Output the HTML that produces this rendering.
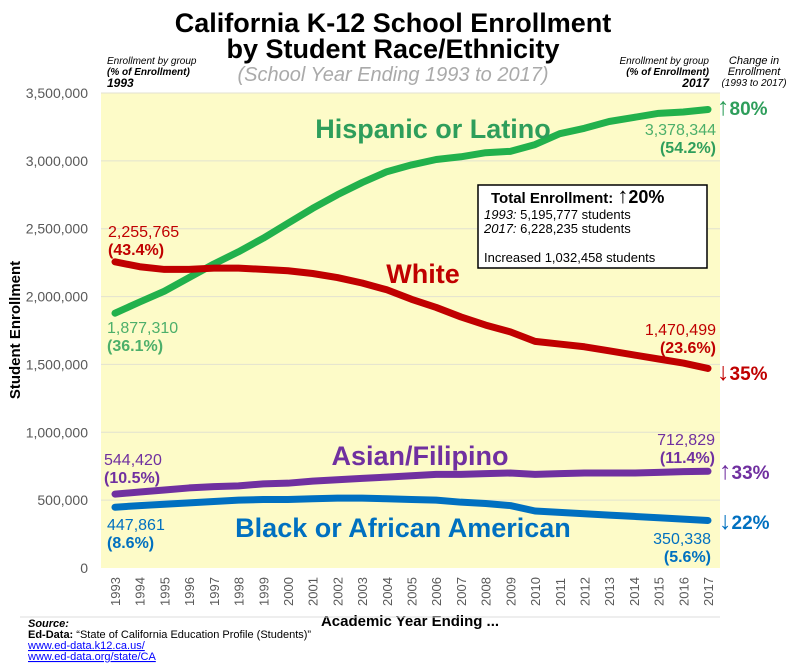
<!DOCTYPE html>
<html><head><meta charset="utf-8"><style>
body{margin:0;background:#fff;}
svg text{font-family:"Liberation Sans",sans-serif;}
</style></head><body>
<svg id="chart" width="786" height="664" xmlns="http://www.w3.org/2000/svg">
<rect x="101" y="93" width="619" height="475" fill="#fdfbc8"/>
<g id="grid"></g>
<g id="yaxis"></g>
<g id="xaxis"></g>
<g id="lines"></g>
<text x="393" y="32" text-anchor="middle" font-size="27" font-weight="bold">California K-12 School Enrollment</text>
<text x="393" y="58" text-anchor="middle" font-size="27" font-weight="bold">by Student Race/Ethnicity</text>
<text x="393" y="81" text-anchor="middle" font-size="20" font-style="italic" fill="#aaa">(School Year Ending 1993 to 2017)</text>
<g font-size="10" font-style="italic">
<text x="107" y="64">Enrollment by group</text>
<text x="107" y="75" font-weight="bold">(% of Enrollment)</text>
<text x="107" y="87" font-weight="bold" font-size="12">1993</text></g>
<g font-size="10" font-style="italic" text-anchor="end">
<text x="709" y="64">Enrollment by group</text>
<text x="709" y="75" font-weight="bold">(% of Enrollment)</text>
<text x="709" y="87" font-weight="bold" font-size="12">2017</text></g>
<g font-size="11" font-style="italic" text-anchor="middle">
<text x="754" y="64">Change in</text><text x="754" y="75">Enrollment</text><text x="754" y="86" font-size="10">(1993 to 2017)</text></g>
<text transform="translate(20,330) rotate(-90)" text-anchor="middle" font-size="15" font-weight="bold">Student Enrollment</text>
<text x="410" y="626" text-anchor="middle" font-size="15" font-weight="bold">Academic Year Ending ...</text>
<line x1="20" y1="617" x2="720" y2="617" stroke="#ddd"/>
<g font-size="11">
<text x="28" y="627" font-style="italic" font-weight="bold">Source:</text>
<text x="28" y="638"><tspan font-weight="bold">Ed-Data:</tspan> “State of California Education Profile (Students)”</text>
<text x="28" y="649" fill="#00f" text-decoration="underline">www.ed-data.k12.ca.us/</text>
<text x="28" y="660" fill="#00f" text-decoration="underline">www.ed-data.org/state/CA</text></g>
<g>
<rect x="478" y="185" width="229" height="83" fill="#fff" stroke="#000" stroke-width="1.5"/>
<text x="491" y="203" font-size="15" font-weight="bold">Total Enrollment: <tspan font-size="22" font-weight="normal">↑</tspan><tspan font-size="18">20%</tspan></text>
<text x="484" y="219" font-size="13"><tspan font-style="italic">1993:</tspan> 5,195,777 students</text>
<text x="484" y="233" font-size="13"><tspan font-style="italic">2017:</tspan> 6,228,235 students</text>
<text x="484" y="262" font-size="13">Increased 1,032,458 students</text></g>
<g font-weight="bold">
<text x="433" y="138" text-anchor="middle" font-size="27" fill="#2e9e5b">Hispanic or Latino</text>
<text x="423" y="283" text-anchor="middle" font-size="27" fill="#c00000">White</text>
<text x="420" y="465" text-anchor="middle" font-size="27" fill="#7030a0">Asian/Filipino</text>
<text x="403" y="537" text-anchor="middle" font-size="27" fill="#0070c0">Black or African American</text>
</g>
<g font-size="16">
<text x="108" y="237" fill="#c00000">2,255,765</text>
<text x="108" y="255" fill="#c00000" font-weight="bold">(43.4%)</text>
<text x="107" y="333" fill="#4caf6a">1,877,310</text>
<text x="107" y="351" fill="#4caf6a" font-weight="bold">(36.1%)</text>
<text x="104" y="465" fill="#7030a0">544,420</text>
<text x="104" y="483" fill="#7030a0" font-weight="bold">(10.5%)</text>
<text x="107" y="530" fill="#0070c0">447,861</text>
<text x="107" y="548" fill="#0070c0" font-weight="bold">(8.6%)</text>
<text x="716" y="135" text-anchor="end" fill="#4caf6a">3,378,344</text>
<text x="716" y="153" text-anchor="end" fill="#2e9e5b" font-weight="bold">(54.2%)</text>
<text x="716" y="335" text-anchor="end" fill="#c00000">1,470,499</text>
<text x="716" y="353" text-anchor="end" fill="#c00000" font-weight="bold">(23.6%)</text>
<text x="715" y="445" text-anchor="end" fill="#7030a0">712,829</text>
<text x="715" y="463" text-anchor="end" fill="#7030a0" font-weight="bold">(11.4%)</text>
<text x="711" y="544" text-anchor="end" fill="#0070c0">350,338</text>
<text x="711" y="562" text-anchor="end" fill="#0070c0" font-weight="bold">(5.6%)</text>
</g>
<g font-size="19" font-weight="bold">
<text x="717" y="115" fill="#2e9e5b"><tspan font-size="25" font-weight="normal">↑</tspan>80%</text>
<text x="717" y="380" fill="#c00000"><tspan font-size="25" font-weight="normal">↓</tspan>35%</text>
<text x="719" y="479" fill="#7030a0"><tspan font-size="25" font-weight="normal">↑</tspan>33%</text>
<text x="719" y="529" fill="#0070c0"><tspan font-size="25" font-weight="normal">↓</tspan>22%</text>
</g>
</svg>
<script>
const years=[1993,1994,1995,1996,1997,1998,1999,2000,2001,2002,2003,2004,2005,2006,2007,2008,2009,2010,2011,2012,2013,2014,2015,2016,2017];
const hispanic=[1877310,1960000,2040000,2140000,2240000,2330000,2430000,2540000,2650000,2750000,2840000,2920000,2970000,3010000,3030000,3060000,3070000,3120000,3200000,3240000,3290000,3320000,3350000,3360000,3378344];
const white=[2255765,2220000,2200000,2200000,2210000,2210000,2200000,2190000,2170000,2140000,2100000,2050000,1980000,1920000,1850000,1790000,1740000,1670000,1650000,1630000,1600000,1570000,1540000,1510000,1470499];
const asian=[544420,560000,575000,590000,600000,605000,620000,625000,640000,650000,660000,670000,680000,690000,690000,695000,700000,690000,695000,700000,700000,700000,705000,710000,712829];
const black=[447861,460000,470000,480000,490000,500000,505000,505000,510000,515000,515000,510000,505000,500000,485000,475000,460000,420000,410000,400000,390000,380000,370000,360000,350338];
const yTicks=[0,500000,1000000,1500000,2000000,2500000,3000000,3500000];
const NS="http://www.w3.org/2000/svg";
const x=i=>115+i*(593/(years.length-1));
const y=v=>568-v*(475/3500000);
function mk(tag,attrs,parent,txt){const e=document.createElementNS(NS,tag);for(const k in attrs)e.setAttribute(k,attrs[k]);if(txt!==undefined)e.textContent=txt;document.getElementById(parent).appendChild(e);return e;}
yTicks.forEach(t=>{
 if(t>0){const g=mk('line',{x1:101,x2:720,y1:y(t),y2:y(t),stroke:'#e2e2d0','stroke-width':1},'grid');
 
 }
 const l=mk('text',{x:88,y:y(t)+5,'text-anchor':'end','font-size':14,fill:'#595959'},'yaxis',t.toLocaleString('en-US'));
 
 
});
years.forEach((yr,i)=>{
 const l=mk('text',{transform:`translate(${x(i)+5},606) rotate(-90)`,'font-size':13,fill:'#595959'},'xaxis',yr);
 
 
});
[[hispanic,'#22b14c','hispanic-line'],[white,'#c00000','white-line'],[asian,'#7030a0','asian-line'],[black,'#0070c0','black-line']].forEach(([d,c,n])=>{
 const p=mk('polyline',{points:d.map((v,i)=>x(i)+','+y(v)).join(' '),fill:'none',stroke:c,'stroke-width':7,'stroke-linecap':'round','stroke-linejoin':'round'},'lines');
 
 
});
</script>
</body></html>
